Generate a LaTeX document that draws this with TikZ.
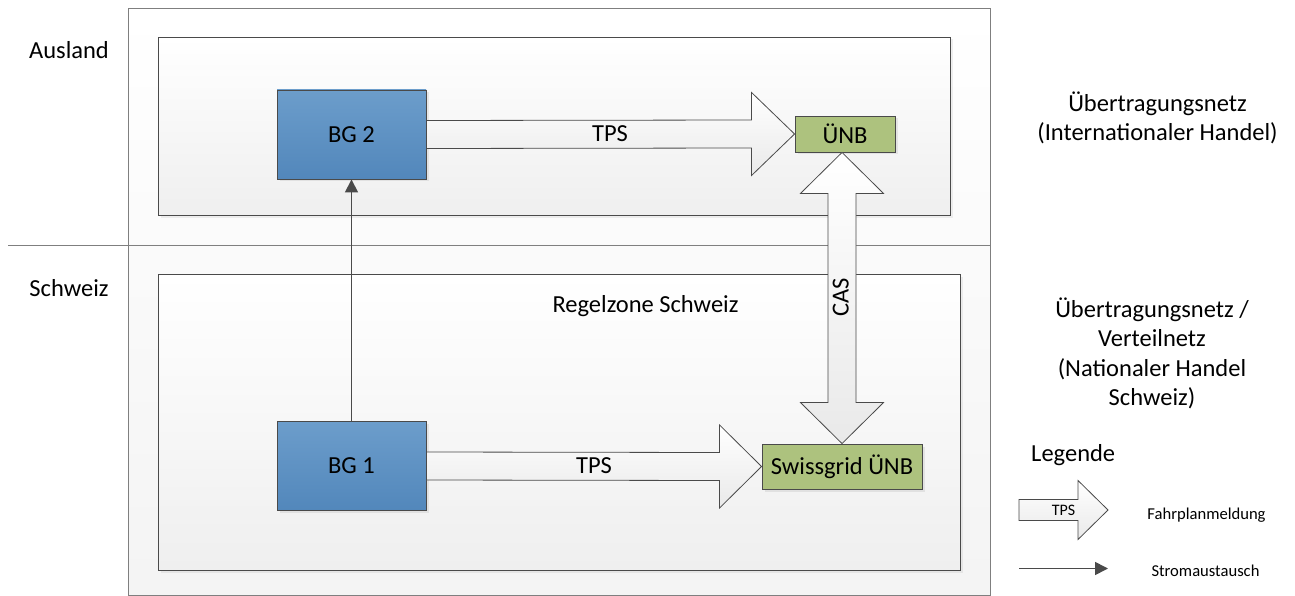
\documentclass[tikz,border=0pt]{standalone}
\usepackage{fontspec}
\setmainfont{Carlito}
\usetikzlibrary{calc,arrows.meta,shadows}
\definecolor{frame}{HTML}{7F7F7F}
\definecolor{edge}{HTML}{4A4A4A}
\definecolor{bluetop}{HTML}{6C9DCB}
\definecolor{bluebot}{HTML}{5287BB}
\definecolor{greenfill}{HTML}{ADC27E}
\definecolor{panelbot}{HTML}{EFEFEF}
\definecolor{arrowbot}{HTML}{E9E9E9}
\tikzset{
  panel/.style={draw=edge, line width=0.8pt, top color=white, bottom color=panelbot},
  outerpanel/.style={draw=frame, line width=0.8pt, top color=white, bottom color=panelbot!70!white},
  bgbox/.style={draw=edge, line width=0.9pt, top color=bluetop, bottom color=bluebot,
    minimum width=149pt, minimum height=89pt, inner sep=0pt, font=\fontsize{24.5}{29.5}\selectfont,
    drop shadow={shadow xshift=2.5pt, shadow yshift=-2.5pt, opacity=0.15}},
  grbox/.style={draw=edge, line width=0.9pt, fill=greenfill, inner sep=0pt, font=\fontsize{24.5}{29.5}\selectfont,
    drop shadow={shadow xshift=2.5pt, shadow yshift=-2.5pt, opacity=0.15}},
  blockarrow/.style={draw=edge, line width=0.8pt, top color=white, bottom color=arrowbot},
  flow/.style={draw=edge, line width=1.6pt, -{Triangle[length=13pt,width=13pt]}},
  lbl/.style={inner sep=0pt, font=\fontsize{24.5}{29.5}\selectfont, align=center},
  small/.style={inner sep=0pt, font=\fontsize{16.6}{19}\selectfont},
}
\begin{document}
\begin{tikzpicture}[x=1pt,y=-1pt]
\useasboundingbox (0,0) rectangle (1295,596);
% outer frame and separator
\draw[outerpanel] (128,8) rectangle (990,595.5);
\draw[frame, line width=0.8pt] (8,245.5) -- (990,245.5);
% inner panels
\draw[panel, drop shadow={shadow xshift=2.5pt, shadow yshift=-2.5pt, opacity=0.12}] (158,37) rectangle (950.5,215);
\draw[panel, drop shadow={shadow xshift=2.5pt, shadow yshift=-2.5pt, opacity=0.12}] (158,274) rectangle (960,570);
% nodes
\node[bgbox] (bg2) at (351.5,134.5) {BG 2};
\node[bgbox] (bg1) at (351.5,466) {BG 1};
\node[grbox, minimum width=100pt, minimum height=36pt] (unb) at (845,134) {ÜNB};
\node[grbox, minimum width=160pt, minimum height=45pt] (swiss) at (842,466.5) {Swissgrid ÜNB};
% TPS arrows
\draw[blockarrow] ($(bg2.east)+(0,-14)$) -- ($(unb.west)+(-43,-14)$) -- ($(unb.west)+(-43,-41.5)$) -- (unb.west)
  -- ($(unb.west)+(-43,41.5)$) -- ($(unb.west)+(-43,14)$) -- ($(bg2.east)+(0,14)$) -- cycle;
\draw[blockarrow] ($(bg1.east)+(0,-14)$) -- ($(swiss.west)+(-42,-14)$) -- ($(swiss.west)+(-42,-41.5)$) -- (swiss.west)
  -- ($(swiss.west)+(-42,41.5)$) -- ($(swiss.west)+(-42,14)$) -- ($(bg1.east)+(0,14)$) -- cycle;
\node[lbl, anchor=base] (tps2) at (610,142) {TPS};
\node[lbl, anchor=base] (tps1) at (594,473.5) {TPS};
% CAS double arrow
\coordinate (ct) at (swiss.north |- unb.south);
\coordinate (cb) at (swiss.north);
\draw[blockarrow] (ct) -- ($(ct)+(41.5,41)$) -- ($(ct)+(14,41)$) -- ($(cb)+(14,-41)$) -- ($(cb)+(41.5,-41)$) -- (cb)
  -- ($(cb)+(-41.5,-41)$) -- ($(cb)+(-14,-41)$) -- ($(ct)+(-14,41)$) -- ($(ct)+(-41.5,41)$) -- cycle;
\node[lbl, rotate=90, anchor=base] (cas) at (848.5,297.5) {CAS};
% power exchange
\draw[flow] (bg1.north) -- (bg2.south);
% labels
\node[lbl, anchor=base] (ausland) at (69,59) {Ausland};
\node[lbl, anchor=base] (schweiz) at (69,296.5) {Schweiz};
\node[lbl, anchor=base] (regel) at (645.5,312) {Regelzone Schweiz};
\node[lbl] (int) at (1157.5,118) {Übertragungsnetz\\(Internationaler Handel)};
\node[lbl] (nat) at (1152,353.5) {Übertragungsnetz /\\Verteilnetz\\(Nationaler Handel\\Schweiz)};
% legend
\node[lbl, anchor=base west] (leg) at (1031,461) {Legende};
\coordinate (la) at (1019,510);
\coordinate (lb) at (1108,510);
\draw[blockarrow] ($(la)+(0,-10.5)$) -- ($(lb)+(-30,-10.5)$) -- ($(lb)+(-30,-29.5)$) -- (lb)
  -- ($(lb)+(-30,29.5)$) -- ($(lb)+(-30,10.5)$) -- ($(la)+(0,10.5)$) -- cycle;
\node[small, anchor=base, font=\fontsize{16}{18}\selectfont] (ltps) at (1063.5,515) {TPS};
\node[small, anchor=base] (fahr) at (1206.5,519) {Fahrplanmeldung};
\coordinate (sa) at (1019,568.5);
\coordinate (sb) at (1108,568.5);
\draw[flow] (sa) -- (sb);
\node[small, anchor=base] (strom) at (1205.5,576.5) {Stromaustausch};
\end{tikzpicture}
\end{document}
